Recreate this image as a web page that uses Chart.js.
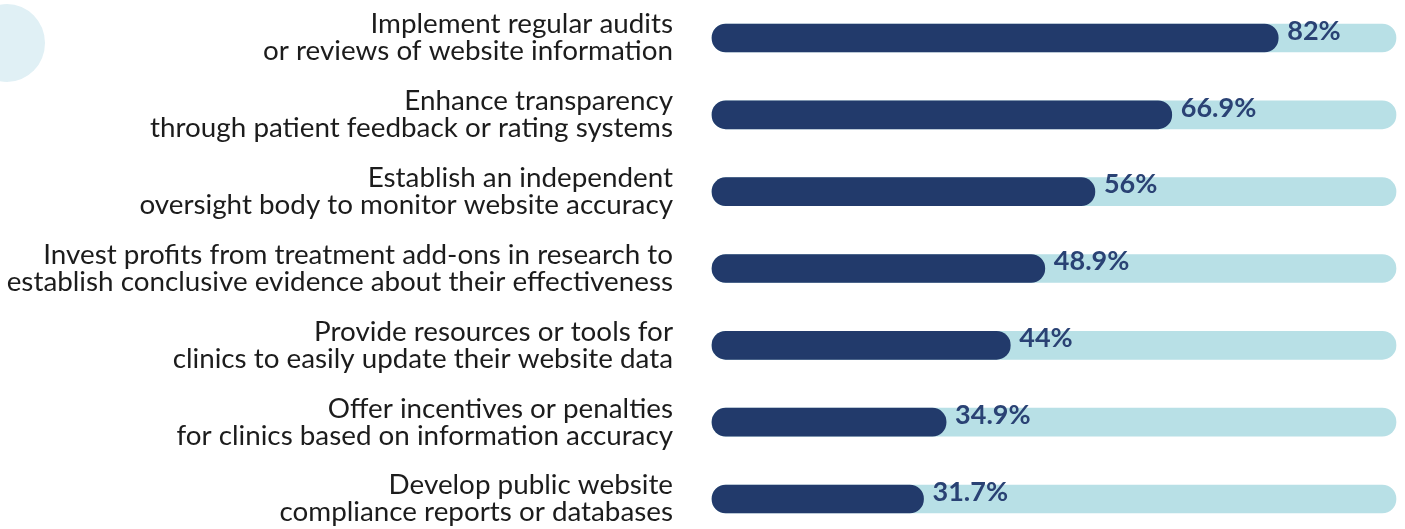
<!DOCTYPE html>
<html>
<head>
<meta charset="utf-8">
<script src="https://cdn.jsdelivr.net/npm/chart.js@4"></script>
<style>
    html, body { margin: 0; padding: 0; background: #ffffff; }
    #chart { display: block; }
</style>
</head>
<body>
<canvas id="chart" width="1405" height="529"></canvas>
<script>
// Chart data
const categories = [
    ['Implement regular audits', 'or reviews of website information'],
    ['Enhance transparency', 'through patient feedback or rating systems'],
    ['Establish an independent', 'oversight body to monitor website accuracy'],
    ['Invest profits from treatment add-ons in research to', 'establish conclusive evidence about their effectiveness'],
    ['Provide resources or tools for', 'clinics to easily update their website data'],
    ['Offer incentives or penalties', 'for clinics based on information accuracy'],
    ['Develop public website', 'compliance reports or databases'],
];
const values = [82, 66.9, 56, 48.9, 44, 34.9, 31.7];
// value axis range (the track ends a little short of 100%)
const axisMin = 1.7;
const axisMax = 98.7;

const NAVY = '#223a6b';
const TRACK = '#b8e0e6';
const LABEL_FONT = 'Lato, "Noto Sans", sans-serif';

// Pale blob in the top left corner
const cornerBlob = {
    id: 'cornerBlob',
    beforeDraw(chart) {
        const c = chart.ctx;
        c.save();
        c.fillStyle = '#e0f0f5';
        c.beginPath();
        c.ellipse(7, 43, 38, 39, 0, 0, Math.PI * 2);
        c.fill();
        c.restore();
    }
};

// Percent labels just past the end of each bar
const valueLabels = {
    id: 'valueLabels',
    afterDatasetsDraw(chart) {
        const c = chart.ctx;
        const meta = chart.getDatasetMeta(1);
        c.save();
        c.font = 'bold 27px ' + LABEL_FONT;
        c.fillStyle = '#2a4274';
        c.textAlign = 'left';
        c.textBaseline = 'middle';
        meta.data.forEach((bar, i) => {
            c.fillText(values[i] + '%', bar.x + 9, bar.y - 7);
        });
        c.restore();
    }
};

new Chart(document.getElementById('chart'), {
    type: 'bar',
    data: {
        labels: categories,
        datasets: [
            {
                // light track behind every bar
                data: categories.map(() => axisMax),
                backgroundColor: TRACK,
                base: axisMin,
                borderRadius: 14,
                borderSkipped: false,
                barThickness: 28,
                grouped: false,
                clip: false,
                order: 2,
            },
            {
                data: values,
                backgroundColor: NAVY,
                base: axisMin,
                borderRadius: 14,
                borderSkipped: false,
                barThickness: 28,
                grouped: false,
                clip: false,
                order: 1,
            }
        ]
    },
    options: {
        indexAxis: 'y',
        responsive: false,
        animation: false,
        devicePixelRatio: 1,
        layout: { padding: { top: 38, bottom: 30, left: 0, right: 9 } },
        scales: {
            x: {
                display: false,
                min: axisMin,
                max: axisMax,
            },
            y: {
                offset: false,
                grid: { display: false, drawTicks: false },
                border: { display: false },
                afterFit(scale) {
                    scale.width = 712;
                    scale.paddingTop = 0;
                    scale.paddingBottom = 0;
                },
                ticks: {
                    padding: 39,
                    color: '#1c1c1c',
                    font: { family: LABEL_FONT, size: 27.8, lineHeight: 0.97 },
                }
            }
        },
        plugins: {
            legend: { display: false },
            tooltip: { enabled: false },
        }
    },
    plugins: [cornerBlob, valueLabels]
});
</script>
</body>
</html>
